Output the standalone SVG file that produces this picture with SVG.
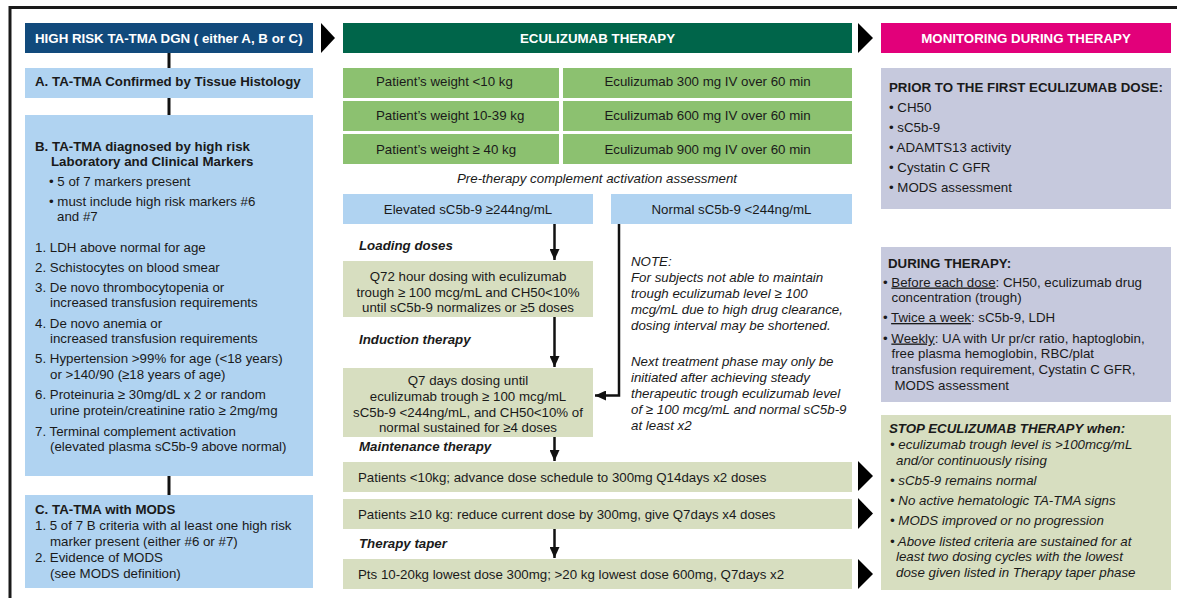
<svg xmlns="http://www.w3.org/2000/svg" width="1177" height="598" viewBox="0 0 1177 598">
<style>
text{font-family:"Liberation Sans",Arial,sans-serif;font-size:13.3px;fill:#1a1a1a}
.h{font-weight:bold;fill:#ffffff}
.b{font-weight:bold}
.i{font-style:italic}
.bi{font-weight:bold;font-style:italic}
.c{text-anchor:middle}
.u{text-decoration:underline}
.navy{fill:#114a7c}
.lb{fill:#b0d3f1}
.dg{fill:#00654a}
.wg{fill:#8cc170}
.kh{fill:#d7dec0}
.lv{fill:#c6c9dd}
.pk{fill:#e2007a}
.ln{stroke:#111111;stroke-width:2.5;fill:none}
.vl{stroke:#111111;stroke-width:3;fill:none}
.arr{stroke:#111111;stroke-width:2.5;fill:none;marker-end:url(#ah)}
.tri{fill:#000000}
.frame{stroke:#1a1a1a;stroke-width:3;fill:none}
</style>
<defs>
<marker id="ah" markerUnits="userSpaceOnUse" markerWidth="12" markerHeight="10" refX="11" refY="5" orient="auto">
<path d="M0,0 L11,5 L0,10 Z" fill="#111111"/>
</marker>
</defs>

<path class="frame" d="M1177,7.5 H10 V598"/>

<!-- LEFT COLUMN -->
<g id="dgn-header">
<rect class="navy" x="25" y="23" width="288" height="30"/>
<text class="h" x="35" y="43">HIGH RISK TA-TMA DGN ( either A, B or C)</text>
</g>
<g id="box-a">
<rect class="lb" x="25" y="68" width="288" height="30"/>
<text class="b" x="35" y="86">A. TA-TMA Confirmed by Tissue Histology</text>
</g>
<g id="box-b">
<rect class="lb" x="25" y="115" width="288" height="361"/>
<text class="b" x="35" y="151">B. TA-TMA diagnosed by high risk</text>
<text class="b" x="51" y="166">Laboratory and Clinical Markers</text>
<text x="49" y="186">• 5 of 7 markers present</text>
<text x="49" y="206">• must include high risk markers #6</text>
<text x="57" y="221">and #7</text>
<text x="35" y="252">1. LDH above normal for age</text>
<text x="35" y="272">2. Schistocytes on blood smear</text>
<text x="35" y="292">3. De novo thrombocytopenia or</text>
<text x="50" y="307">increased transfusion requirements</text>
<text x="35" y="328">4. De novo anemia or</text>
<text x="50" y="343">increased transfusion requirements</text>
<text x="35" y="363">5. Hypertension &gt;99% for age (&lt;18 years)</text>
<text x="50" y="379">or &gt;140/90 (≥18 years of age)</text>
<text x="35" y="399">6. Proteinuria ≥ 30mg/dL x 2 or random</text>
<text x="50" y="415">urine protein/creatinine ratio ≥ 2mg/mg</text>
<text x="35" y="436">7. Terminal complement activation</text>
<text x="50" y="451">(elevated plasma sC5b-9 above normal)</text>
</g>
<g id="box-c">
<rect class="lb" x="25" y="495" width="288" height="93"/>
<text class="b" x="35" y="514">C. TA-TMA with MODS</text>
<text x="35" y="530">1. 5 of 7 B criteria with al least one high risk</text>
<text x="50" y="546">marker present (either #6 or #7)</text>
<text x="35" y="562">2. Evidence of MODS</text>
<text x="50" y="578">(see MODS definition)</text>
</g>

<!-- MIDDLE COLUMN -->
<g id="therapy-header">
<rect class="dg" x="343" y="23" width="509" height="30"/>
<text class="h c" x="597.5" y="43">ECULIZUMAB THERAPY</text>
</g>
<g id="weight-lt10">
<rect class="wg" x="343" y="68" width="216" height="30"/>
<text x="376" y="86">Patient’s weight &lt;10 kg</text>
<rect class="wg" x="563" y="68" width="289" height="30"/>
<text class="c" x="707.5" y="86">Eculizumab 300 mg IV over 60 min</text>
</g>
<g id="weight-10-39">
<rect class="wg" x="343" y="101" width="216" height="30"/>
<text x="376" y="120">Patient’s weight 10-39 kg</text>
<rect class="wg" x="563" y="101" width="289" height="30"/>
<text class="c" x="707.5" y="120">Eculizumab 600 mg IV over 60 min</text>
</g>
<g id="weight-ge40">
<rect class="wg" x="343" y="134" width="216" height="30"/>
<text x="376" y="154">Patient’s weight ≥ 40 kg</text>
<rect class="wg" x="563" y="134" width="289" height="30"/>
<text class="c" x="707.5" y="154">Eculizumab 900 mg IV over 60 min</text>
</g>
<g id="pretherapy-label">
<text class="i c" x="597" y="183">Pre-therapy complement activation assessment</text>
</g>
<g id="elevated">
<rect class="lb" x="343" y="194" width="250" height="30"/>
<text class="c" x="468" y="214">Elevated sC5b-9 ≥244ng/mL</text>
</g>
<g id="normal">
<rect class="lb" x="611" y="194" width="241" height="30"/>
<text class="c" x="731.5" y="214">Normal sC5b-9 &lt;244ng/mL</text>
</g>
<g id="loading">
<text class="bi" x="359" y="250">Loading doses</text>
<rect class="kh" x="343" y="261" width="250" height="56"/>
<text class="c" x="468" y="281">Q72 hour dosing with eculizumab</text>
<text class="c" x="468" y="297">trough ≥ 100 mcg/mL and CH50&lt;10%</text>
<text class="c" x="468" y="312">until sC5b-9 normalizes or ≥5 doses</text>
</g>
<g id="induction">
<text class="bi" x="359" y="344">Induction therapy</text>
<rect class="kh" x="343" y="368" width="250" height="69"/>
<text class="c" x="468" y="385">Q7 days dosing until</text>
<text class="c" x="468" y="401">eculizumab trough ≥ 100 mcg/mL</text>
<text class="c" x="468" y="416.5">sC5b-9 &lt;244ng/mL, and CH50&lt;10% of</text>
<text class="c" x="468" y="432">normal sustained for ≥4 doses</text>
</g>
<g id="note">
<text class="i" x="631" y="265.5">NOTE:</text>
<text class="i" x="631" y="281.5">For subjects not able to maintain</text>
<text class="i" x="631" y="297.5">trough eculizumab level ≥ 100</text>
<text class="i" x="631" y="313.5">mcg/mL due to high drug clearance,</text>
<text class="i" x="631" y="329.5">dosing interval may be shortened.</text>
<text class="i" x="631" y="365.5">Next treatment phase may only be</text>
<text class="i" x="631" y="381.5">initiated after achieving steady</text>
<text class="i" x="631" y="397.5">therapeutic trough eculizumab level</text>
<text class="i" x="631" y="413.5">of ≥ 100 mcg/mL and normal sC5b-9</text>
<text class="i" x="631" y="429.5">at least x2</text>
</g>
<g id="maintenance">
<text class="bi" x="359" y="451">Maintenance therapy</text>
<rect class="kh" x="343" y="462" width="509" height="30"/>
<text x="358" y="482">Patients &lt;10kg; advance dose schedule to 300mg Q14days x2 doses</text>
<rect class="kh" x="343" y="499" width="509" height="30"/>
<text x="358" y="519">Patients ≥10 kg: reduce current dose by 300mg, give Q7days x4 doses</text>
</g>
<g id="taper">
<text class="bi" x="359" y="548">Therapy taper</text>
<rect class="kh" x="343" y="559" width="509" height="30"/>
<text x="358" y="579">Pts 10-20kg lowest dose 300mg; &gt;20 kg lowest dose 600mg, Q7days x2</text>
</g>

<!-- RIGHT COLUMN -->
<g id="monitoring-header">
<rect class="pk" x="881" y="23" width="290" height="30"/>
<text class="h c" x="1026" y="43">MONITORING DURING THERAPY</text>
</g>
<g id="prior">
<rect class="lv" x="881" y="68" width="290" height="141"/>
<text class="b" x="889" y="92">PRIOR TO THE FIRST ECULIZUMAB DOSE:</text>
<text x="889" y="111.5">• CH50</text>
<text x="889" y="131.5">• sC5b-9</text>
<text x="889" y="152">• ADAMTS13 activity</text>
<text x="889" y="172">• Cystatin C GFR</text>
<text x="889" y="192">• MODS assessment</text>
</g>
<g id="during">
<rect class="lv" x="881" y="247" width="290" height="155"/>
<text class="b" x="888" y="267.5">DURING THERAPY:</text>
<text x="883" y="286.5">• <tspan class="u">Before each dose</tspan>: CH50, eculizumab drug</text>
<text x="891.5" y="302">concentration (trough)</text>
<text x="883" y="322">• <tspan class="u">Twice a week</tspan>: sC5b-9, LDH</text>
<text x="883" y="342.5">• <tspan class="u">Weekly</tspan>: UA with Ur pr/cr ratio, haptoglobin,</text>
<text x="891.5" y="358">free plasma hemoglobin, RBC/plat</text>
<text x="891.5" y="374">transfusion requirement, Cystatin C GFR,</text>
<text x="894.5" y="389.5">MODS assessment</text>
</g>
<g id="stop">
<rect class="kh" x="881" y="415" width="290" height="175"/>
<text class="bi" x="889" y="432.5">STOP ECULIZUMAB THERAPY when:</text>
<text class="i" x="890" y="448.5">• eculizumab trough level is &gt;100mcg/mL</text>
<text class="i" x="896" y="464.5">and/or continuously rising</text>
<text class="i" x="890" y="484.5">• sCb5-9 remains normal</text>
<text class="i" x="890" y="504.5">• No active hematologic TA-TMA signs</text>
<text class="i" x="890" y="524.5">• MODS improved or no progression</text>
<text class="i" x="890" y="545.5">• Above listed criteria are sustained for at</text>
<text class="i" x="896" y="560.5">least two dosing cycles with the lowest</text>
<text class="i" x="896" y="576.5">dose given listed in Therapy taper phase</text>
</g>

<!-- CONNECTORS -->
<g id="connectors">
<line class="vl" x1="169" y1="53" x2="169" y2="68"/>
<line class="vl" x1="169" y1="98" x2="169" y2="115"/>
<line class="vl" x1="169" y1="476" x2="169" y2="495"/>
<line class="arr" x1="554.5" y1="224" x2="554.5" y2="260"/>
<line class="arr" x1="554.5" y1="317" x2="554.5" y2="367"/>
<line class="arr" x1="554.5" y1="437" x2="554.5" y2="461"/>
<line class="arr" x1="554.5" y1="529" x2="554.5" y2="558"/>
<path class="arr" d="M619,224 V395.5 H595"/>
<polygon class="tri" points="321,23 335,38 321,53"/>
<polygon class="tri" points="858,23 873,38 858,53"/>
<polygon class="tri" points="858,461 873,476 858,491"/>
<polygon class="tri" points="858,498 873,513.5 858,529"/>
<polygon class="tri" points="858,559 873,574 858,589"/>
</g>
</svg>
